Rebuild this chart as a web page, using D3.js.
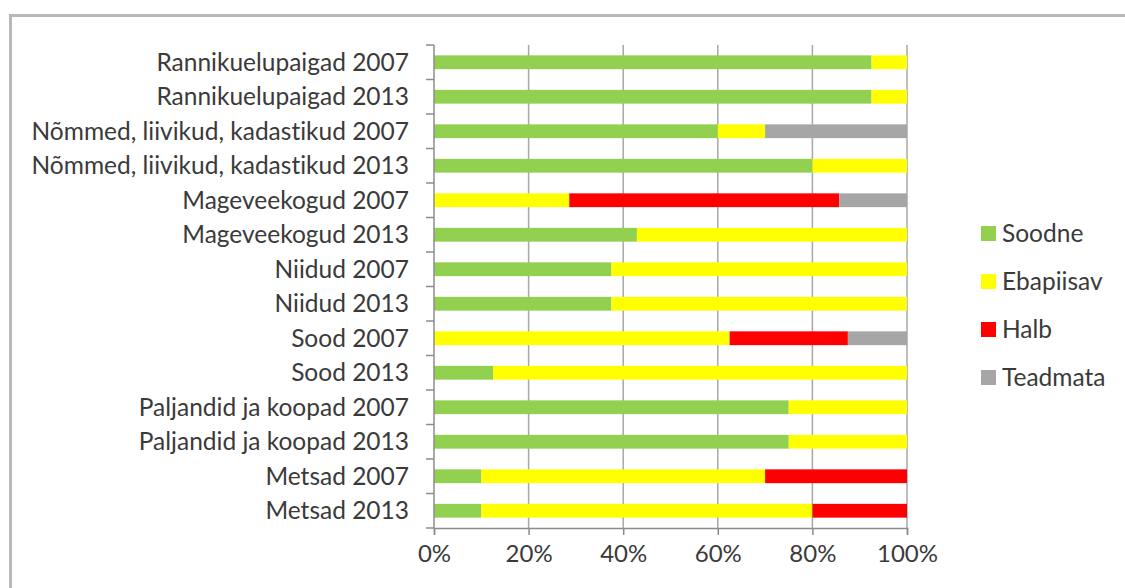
<!DOCTYPE html>
<html>
<head>
<meta charset="utf-8">
<script src="https://cdn.jsdelivr.net/npm/d3@7"></script>
<style>
  body { margin: 0; background: #fff; }
  svg text { font-family: Lato, "Liberation Sans", sans-serif; fill: #3a3a3a; font-variant-ligatures: none; }
</style>
</head>
<body>
<svg id="chart" width="1125" height="588"></svg>
<script>
// categories, top to bottom
var categories = [
  'Rannikuelupaigad 2007', 'Rannikuelupaigad 2013',
  'Nõmmed, liivikud, kadastikud 2007', 'Nõmmed, liivikud, kadastikud 2013',
  'Mageveekogud 2007', 'Mageveekogud 2013',
  'Niidud 2007', 'Niidud 2013',
  'Sood 2007', 'Sood 2013',
  'Paljandid ja koopad 2007', 'Paljandid ja koopad 2013',
  'Metsad 2007', 'Metsad 2013'
];
var seriesNames = ['Soodne', 'Ebapiisav', 'Halb', 'Teadmata'];
var seriesColors = ['#92d050', '#ffff00', '#ff0000', '#a6a6a6'];

// shares in percent
var soodne    = [92.5, 92.5, 60, 80,    0,  42.9, 37.5, 37.5,  0,  12.5, 75, 75, 10, 10];
var ebapiisav = [ 7.5,  7.5, 10, 20, 28.6,  57.1, 62.5, 62.5, 62.5, 87.5, 25, 25, 60, 70];
var halb      = [   0,    0,  0,  0, 57.1,     0,    0,    0,  25,     0,  0,  0, 30, 20];
var teadmata  = [   0,    0, 30,  0, 14.3,     0,    0,    0, 12.5,    0,  0,  0,  0,  0];
var xTicks = [0, 20, 40, 60, 80, 100];

var rows = categories.map(function(c, i) {
  return { cat: c, Soodne: soodne[i], Ebapiisav: ebapiisav[i], Halb: halb[i], Teadmata: teadmata[i] };
});

var svg = d3.select('#chart');
var fontSize = 24.5;

// outer frame (right and bottom edges fall outside the picture)
svg.append('rect')
  .attr('x', 10.5).attr('y', 15.5)
  .attr('width', 1200).attr('height', 700)
  .attr('fill', 'none')
  .attr('stroke', '#b8b8b8')
  .attr('stroke-width', 3);

var plotLeft = 434, plotRight = 907, plotTop = 45, plotBottom = 528;

var x = d3.scaleLinear().domain([0, 100]).range([plotLeft, plotRight]);
var y = d3.scaleBand().domain(categories).range([plotTop, plotBottom]).paddingInner(0.6).paddingOuter(0.3);

// gridlines
svg.append('g')
  .selectAll('line')
  .data(xTicks.slice(1))
  .enter().append('line')
  .attr('x1', function(d) { return x(d); })
  .attr('x2', function(d) { return x(d); })
  .attr('y1', plotTop).attr('y2', plotBottom)
  .attr('stroke', '#a8a8a8')
  .attr('stroke-width', 1.5);

var stack = d3.stack().keys(seriesNames);
var layers = stack(rows);

svg.append('g')
  .selectAll('g')
  .data(layers)
  .enter().append('g')
  .attr('fill', function(d, i) { return seriesColors[i]; })
  .selectAll('rect')
  .data(function(d) { return d; })
  .enter().append('rect')
  .attr('x', function(d) { return x(d[0]); })
  .attr('width', function(d) { return x(d[1]) - x(d[0]); })
  .attr('y', function(d) { return y(d.data.cat); })
  .attr('height', y.bandwidth());

// y axis with ticks at band boundaries
var bandStep = (plotBottom - plotTop) / categories.length;
var yAxisG = svg.append('g');
yAxisG.append('line')
  .attr('x1', plotLeft).attr('x2', plotLeft)
  .attr('y1', plotTop).attr('y2', plotBottom)
  .attr('stroke', '#8c8c8c').attr('stroke-width', 1.5);
yAxisG.selectAll('.tk')
  .data(d3.range(categories.length + 1))
  .enter().append('line')
  .attr('x1', plotLeft - 8).attr('x2', plotLeft)
  .attr('y1', function(d) { return plotTop + d * bandStep; })
  .attr('y2', function(d) { return plotTop + d * bandStep; })
  .attr('stroke', '#8c8c8c').attr('stroke-width', 1.5);
yAxisG.selectAll('text')
  .data(categories)
  .enter().append('text')
  .attr('x', plotLeft - 25)
  .attr('y', function(d) { return y(d) + y.bandwidth() / 2; })
  .attr('dy', '0.35em')
  .attr('text-anchor', 'end')
  .attr('font-size', fontSize)
  .text(function(d) { return d; });

// x axis
var xAxis = d3.axisBottom(x)
  .tickValues(xTicks)
  .tickSize(7)
  .tickPadding(10)
  .tickFormat(function(d) { return d + '%'; });
var xg = svg.append('g')
  .attr('transform', 'translate(0,' + plotBottom + ')')
  .call(xAxis);
xg.select('.domain').attr('stroke', '#8c8c8c').attr('stroke-width', 1.5);
xg.selectAll('.tick line').attr('stroke', '#8c8c8c').attr('stroke-width', 1.5);
xg.selectAll('.tick text')
  .attr('font-size', 24)
  .attr('font-family', 'Lato, "Liberation Sans", sans-serif')
  .attr('fill', '#3a3a3a');

// legend
var legend = svg.append('g')
  .selectAll('g')
  .data(seriesNames)
  .enter().append('g')
  .attr('transform', function(d, i) { return 'translate(981,' + (233 + i * 48) + ')'; });
legend.append('rect')
  .attr('x', 0).attr('y', -7)
  .attr('width', 15).attr('height', 15)
  .attr('fill', function(d, i) { return seriesColors[i]; });
legend.append('text')
  .attr('x', 21).attr('y', 0)
  .attr('dy', '0.35em')
  .attr('font-size', fontSize)
  .text(function(d) { return d; });
</script>
</body>
</html>
